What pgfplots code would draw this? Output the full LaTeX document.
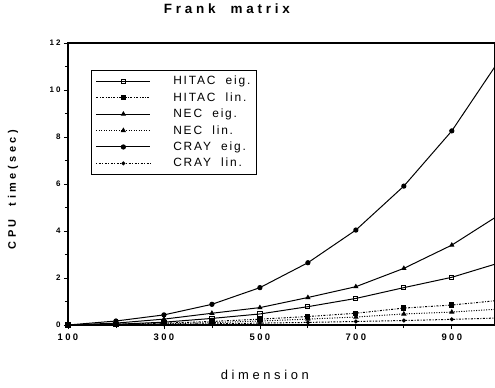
\documentclass[border=0pt]{standalone}
\usepackage{fontspec}
\setmainfont{Liberation Sans}
\newfontfamily\titlef[LetterSpace=28]{Liberation Sans}
\newfontfamily\xlabf[LetterSpace=28]{Liberation Sans}
\newfontfamily\labf[LetterSpace=32]{Liberation Sans}
\newfontfamily\tickf[LetterSpace=25]{Liberation Sans}
\newfontfamily\legf[LetterSpace=15]{Liberation Sans}
\usepackage{pgfplots}
\pgfplotsset{compat=1.18}
\begin{document}
\begin{tikzpicture}
\useasboundingbox (-68bp,-63bp) rectangle (427bp,325bp);
\begin{axis}[
  scale only axis, width=427bp, height=282bp,
  xmin=100, xmax=990, ymin=0, ymax=12,
  axis line style={line width=1.2pt},
  xtick={100,300,500,700,900}, minor xtick={200,400,600,800},
  ytick={0,2,4,6,8,10,12}, minor ytick={1,3,5,7,9,11},
  tick align=outside, tick pos=left,
  major tick length=4bp, minor tick length=3bp,
  tick style={line width=0.8pt, black},
  /pgf/number format/assume math mode=true,
  ticklabel style={font=\tickf\bfseries\fontsize{9.5}{10}\selectfont},
  yticklabel style={font=\tickf\bfseries\fontsize{8}{9}\selectfont},
  xticklabel style={yshift=-1bp},
  title={\titlef\bfseries\fontsize{13.5}{15}\selectfont Frank\ \ matrix},
  title style={at={(0.372,1)}, anchor=center, yshift=28bp},
  xlabel={\xlabf\fontsize{13}{15}\selectfont dimension},
  xlabel style={at={(0.461,0)}, anchor=center, yshift=-50bp},
  ylabel={\labf\bfseries\fontsize{11}{12}\selectfont CPU\ \ time(sec)},
  ylabel style={at={(axis description cs:-0.129,0.48)}, anchor=center, rotate=0},
  legend style={at={(0.055,0.905)}, anchor=north west, draw=black, line width=0.8pt,
    font=\legf\fontsize{12}{13}\selectfont, row sep=2.3pt, inner xsep=4pt, inner ysep=4pt},
  legend cell align=left,
  legend image code/.code={\draw[mark repeat=2,mark phase=2,#1] plot coordinates {(0bp,0bp) (27bp,0bp) (54bp,0bp)};},
  every axis plot/.append style={black, line width=1pt, mark size=2.1pt},
]
\addplot[solid, mark=square, mark options={solid, fill=white}] coordinates {
 (100,0) (200,0.03) (300,0.12) (400,0.28) (500,0.47) (600,0.78) (700,1.13) (800,1.59) (900,2.03) (1000,2.65)};
\addlegendentry{\ \ \ \ HITAC\ \ eig.\ }
\addplot[dash pattern=on 2pt off 1.5pt on 0.7pt off 1.5pt, mark=square*, mark options={solid}] coordinates {
 (100,0) (200,0.03) (300,0.08) (400,0.15) (500,0.25) (600,0.36) (700,0.5) (800,0.72) (900,0.85) (1000,1.05)};
\addlegendentry{\ \ \ \ HITAC\ \ lin.}
\addplot[solid, mark=triangle*, mark options={solid}] coordinates {
 (100,0) (200,0.08) (300,0.25) (400,0.5) (500,0.74) (600,1.17) (700,1.63) (800,2.41) (900,3.40) (1000,4.7)};
\addlegendentry{\ \ \ \ NEC\ \ eig.}
\addplot[dash pattern=on 1pt off 1.5pt, mark=triangle*, mark options={solid}] coordinates {
 (100,0) (200,0.02) (300,0.05) (400,0.1) (500,0.17) (600,0.25) (700,0.34) (800,0.47) (900,0.55) (1000,0.68)};
\addlegendentry{\ \ \ \ NEC\ \ lin.}
\addplot[solid, mark=*, mark options={solid}] coordinates {
 (100,0) (200,0.17) (300,0.43) (400,0.88) (500,1.59) (600,2.65) (700,4.04) (800,5.91) (900,8.26) (1000,11.3)};
\addlegendentry{\ \ \ \ CRAY\ \ eig.}
\addplot[dash pattern=on 1pt off 1.5pt on 2pt off 1.5pt, mark=*, mark options={solid}, mark size=1.5pt] coordinates {
 (100,0) (200,0.01) (300,0.03) (400,0.05) (500,0.08) (600,0.11) (700,0.15) (800,0.19) (900,0.24) (1000,0.3)};
\addlegendentry{\ \ \ \ CRAY\ \ lin.}
\end{axis}
\end{tikzpicture}
\end{document}
